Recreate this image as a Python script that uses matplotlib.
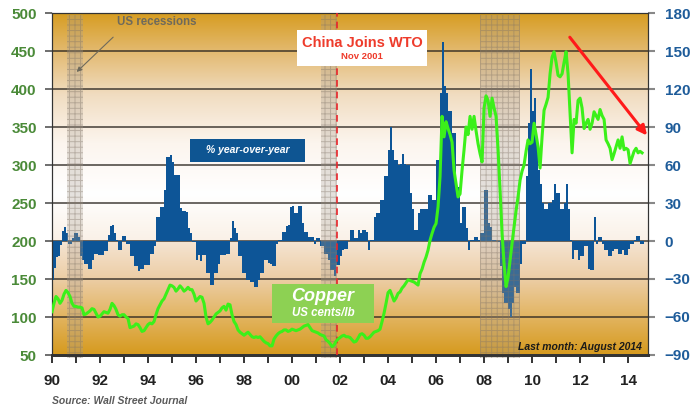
import numpy as np
import matplotlib
matplotlib.use("Agg")
import matplotlib.pyplot as plt
from matplotlib.colors import LinearSegmentedColormap
from matplotlib.patches import Rectangle

plt.rcParams['font.family'] = ['Liberation Sans', 'DejaVu Sans']
plt.rcParams['hatch.linewidth'] = 0.7

# ---------------- data ----------------
start_year = 1990
# Copper price, US cents/lb, monthly Jan 1990 - Aug 2014
copper = [
    107, 118, 127, 124, 118, 122, 130, 135, 132, 127, 118, 114,   # 1990
    114, 113, 113, 112, 103, 104, 106, 108, 111, 110, 105, 100,   # 1991
    101, 104, 107, 106, 105, 110, 118, 115, 110, 103, 101, 103,   # 1992
    103, 100, 98, 86, 87, 88, 91, 90, 86, 81, 82, 86,             # 1993
    90, 92, 91, 94, 103, 111, 116, 121, 124, 130, 136, 142,       # 1994
    141, 139, 134, 137, 141, 138, 134, 136, 139, 136, 136, 130,   # 1995
    121, 124, 127, 126, 118, 100, 91, 93, 96, 100, 104, 106,      # 1996
    108, 112, 114, 109, 117, 116, 103, 94, 90, 83, 80, 78,        # 1997
    76, 78, 80, 77, 74, 73, 74, 73, 74, 71, 68, 66,               # 1998
    65, 62, 62, 71, 75, 78, 80, 81, 83, 83, 81, 82,               # 1999
    84, 83, 82, 83, 84, 86, 88, 89, 90, 86, 82, 81,               # 2000
    80, 79, 77, 76, 75, 70, 68, 65, 61, 63, 68, 71,               # 2001
    73, 75, 76, 74, 74, 73, 70, 67, 68, 72, 77, 78,               # 2002
    76, 72, 72, 74, 77, 80, 81, 82, 84, 94, 105, 118,             # 2003
    132, 135, 128, 121, 125, 131, 133, 138, 141, 145, 149, 148,   # 2004
    147, 146, 144, 142, 157, 163, 172, 179, 188, 201, 210, 218,   # 2005
    223, 245, 285, 364, 337, 357, 348, 340, 330, 293, 275, 258,   # 2006
    262, 293, 320, 350, 340, 364, 347, 364, 345, 328, 315, 304,   # 2007
    375, 391, 385, 364, 388, 375, 364, 320, 267, 210, 170, 140,   # 2008
    152, 175, 197, 219, 240, 258, 280, 292, 300, 318, 333, 328,   # 2009
    330, 355, 340, 324, 296, 337, 372, 380, 389, 420, 442, 449,   # 2010
    435, 418, 416, 420, 435, 449, 420, 368, 316, 360, 355, 385,   # 2011
    388, 375, 348, 355, 360, 347, 355, 370, 365, 360, 373, 365,   # 2012
    360, 333, 328, 322, 307, 315, 324, 333, 322, 337, 320, 322,   # 2013
    320, 302, 310, 318, 322, 316, 318, 316,                       # 2014
]
# Copper, % year-over-year, monthly Jan 1990 - Aug 2014
yoy = [
    -31, -21, -13, -12, -3, 8, 11, 6, -2, -2, 2, 6,               # 1990
    6, 3, -12, -15, -18, -18, -22, -22, -15, -10, -10, -11,       # 1991
    -11, -11, -8, -8, 5, 12, 13, 6, 1, -7, -7, 4,                 # 1992
    4, -2, -2, -12, -12, -20, -20, -24, -22, -22, -19, -19,       # 1993
    -19, -10, -10, -4, 19, 19, 27, 27, 40, 66, 66, 68,            # 1994
    62, 52, 52, 52, 26, 24, 24, 23, 10, 6, -1, -1,                # 1995
    -15, -11, -16, -11, -11, -25, -25, -35, -35, -25, -25, -18,   # 1996
    -11, -11, -11, -10, -10, 2, 16, 10, 6, -12, -12, -25,         # 1997
    -25, -31, -31, -32, -32, -36, -36, -31, -25, -25, -15, -15,   # 1998
    -17, -18, -20, -20, -2, 1, 1, 7, 7, 12, 13, 27,               # 1999
    28, 22, 22, 28, 28, 14, 7, 7, 3, 3, 3, -2,                    # 2000
    2, 2, -4, -4, -10, -10, -15, -23, -23, -28, -19, -19,         # 2001
    -12, -7, -6, -6, 0, 9, 9, 2, 2, 9, 6, 9,                      # 2002
    9, 7, -7, 1, 1, 19, 22, 22, 32, 32, 51, 51,                   # 2003
    72, 90, 72, 64, 64, 60, 61, 69, 61, 60, 60, 38,               # 2004
    25, 9, 9, 22, 25, 25, 25, 25, 36, 36, 32, 32,                 # 2005
    64, 64, 117, 157, 122, 117, 103, 103, 85, 85, 43, 43,         # 2006
    14, 27, 27, 10, -7, 1, 1, 3, 3, 1, 6, 6,                      # 2007
    40, 40, 14, 11, 1, 1, 0, -1, -20, -41, -49, -49,              # 2008
    -54, -60, -49, -36, -41, -41, -18, -2, -2, 51, 93, 136,       # 2009
    103, 113, 80, 56, 45, 30, 25, 25, 30, 30, 32, 45,             # 2010
    38, 38, 25, 25, 30, 45, 25, 1, -14, -7, -7, -15,              # 2011
    -12, -12, -4, -4, -22, -23, -23, 19, -2, 3, 3, -2,            # 2012
    -7, -7, -12, -12, -8, -6, -6, -10, -10, -7, -11, -11,         # 2013
    -6, -2, -2, 1, 4, 4, -2, -2,                                  # 2014
]
recession_start = [1990.62, 2001.21, 2007.84]
recession_end = [1991.29, 2001.88, 2009.50]
wto_date = 2001.87
left_ticks = [50, 100, 150, 200, 250, 300, 350, 400, 450, 500]
right_ticks = [-90, -60, -30, 0, 30, 60, 90, 120, 150, 180]
year_labels = ['90', '92', '94', '96', '98', '00', '02', '04', '06', '08', '10', '12', '14']

months = start_year + np.arange(len(yoy)) / 12.0

# ---------------- figure ----------------
fig = plt.figure(figsize=(6.92, 4.11), dpi=100)
ax = fig.add_axes([52 / 692, 56 / 411, 596 / 692, 342 / 411])
ax2 = ax.twinx()
ax.set_zorder(ax2.get_zorder() + 1)
ax.patch.set_visible(False)

ax.set_xlim(1990.0, 2014.83)
ax.set_ylim(50, 500)
ax2.set_ylim(-90, 180)

# background gradient (bottom -> top)
stops = [
    (0.000, '#D69A1E'),
    (0.110, '#E2B460'),
    (0.220, '#ECCDA4'),
    (0.330, '#F5E4D2'),
    (0.334, '#FAF1E7'),
    (0.470, '#FFFFFF'),
    (0.620, '#FCF5EE'),
    (0.760, '#F1DDC2'),
    (0.880, '#E4BC76'),
    (1.000, '#D79D22'),
]
cmap = LinearSegmentedColormap.from_list('bg', stops)
grad = np.linspace(0, 1, 512).reshape(-1, 1)
ax2.imshow(grad, extent=[0, 1, 0, 1], transform=ax2.transAxes, aspect='auto',
           cmap=cmap, origin='lower', zorder=-2, interpolation='bilinear')

# grid
ax2.set_yticks(right_ticks)
for v in right_ticks[1:-1]:
    ax2.axhline(v, color='#2a2520', lw=1.3, alpha=0.75, zorder=0.5)

# bars
ax2.bar(months, yoy, width=1 / 12.0, align='edge', color='#0D5597', lw=0, zorder=2)

# recessions
for s, e in zip(recession_start, recession_end):
    ax2.axvspan(s, e, ymin=-0.008, ymax=0.994, facecolor=(0.66, 0.62, 0.57, 0.30),
                edgecolor=(0.50, 0.45, 0.40, 0.40), hatch='+++', lw=0, zorder=3,
                clip_on=False)

# WTO line
ax.axvline(wto_date, color='#E8242A', ls=(0, (4, 3)), lw=1.2, zorder=4)

# copper line
ax.plot(months[:len(copper)], copper, color='#3BF01A', lw=2.2, zorder=5,
        solid_joinstyle='round')

# ---------------- axes styling ----------------
for side in ['left', 'right', 'top', 'bottom']:
    for a in (ax, ax2):
        a.spines[side].set_color('#333333')
ax.spines['bottom'].set_linewidth(2)
ax2.spines['bottom'].set_linewidth(2)

ax.set_yticks(left_ticks)
ax.tick_params(axis='y', colors='#555555', length=5, width=1.2, pad=6,
               labelcolor='#4A8A38', labelsize=11)
for t in ax.get_yticklabels():
    t.set_fontweight('bold')
ax2.tick_params(axis='y', colors='#888888', length=5, width=1.5, pad=7,
                labelcolor='#1E5C9A', labelsize=11)
for t in ax2.get_yticklabels():
    t.set_fontweight('bold')

major_years = list(range(1990, 2015, 2))
minor_years = list(range(1991, 2015, 2))
ax.set_xticks(major_years)
ax.set_xticklabels(year_labels)
ax.set_xticks(minor_years, minor=True)
ax.tick_params(axis='x', which='both', colors='#333333', length=6, width=1.4,
               labelcolor='#222222', labelsize=11, pad=8)
for t in ax.get_xticklabels():
    t.set_fontweight('bold')
ax2.tick_params(axis='x', which='both', length=0)

# ---------------- annotations ----------------
ax.text(0.176, 0.973, 'US recessions', transform=ax.transAxes, ha='center', va='center',
        fontsize=8.3, fontweight='bold', color='#6E6A5C', zorder=7)
ax.annotate('', xy=(0.038, 0.822), xytext=(0.106, 0.935), xycoords='axes fraction',
            arrowprops=dict(arrowstyle='-|>', color='#6E6A5C', lw=0.8, mutation_scale=7),
            zorder=7)

ax.add_patch(Rectangle((0.411, 0.845), 0.218, 0.105, transform=ax.transAxes,
                       facecolor='white', edgecolor='none', zorder=6))
ax.text(0.520, 0.913, 'China Joins WTO', transform=ax.transAxes, ha='center', va='center',
        fontsize=10.5, fontweight='bold', color='#EE3B2B', zorder=7)
ax.text(0.520, 0.873, 'Nov 2001', transform=ax.transAxes, ha='center', va='center',
        fontsize=6.8, fontweight='bold', color='#EE3B2B', zorder=7)

ax.add_patch(Rectangle((0.2315, 0.564), 0.193, 0.068, transform=ax.transAxes,
                       facecolor='#0E5592', edgecolor='none', zorder=6))
ax.text(0.329, 0.598, '% year-over-year', transform=ax.transAxes, ha='center',
        va='center', fontsize=7.5, fontweight='bold', style='italic', color='white',
        zorder=7)

ax.add_patch(Rectangle((0.369, 0.0936), 0.171, 0.114, transform=ax.transAxes,
                       facecolor='#8DD153', edgecolor='none', zorder=6))
ax.text(0.4547, 0.170, 'Copper', transform=ax.transAxes, ha='center', va='center',
        fontsize=13, fontweight='bold', style='italic', color='white', zorder=7)
ax.text(0.4547, 0.122, 'US cents/lb', transform=ax.transAxes, ha='center', va='center',
        fontsize=8.3, fontweight='bold', style='italic', color='white', zorder=7)

ax.text(0.990, 0.022, 'Last month: August 2014', transform=ax.transAxes, ha='right',
        va='center', fontsize=7.5, fontweight='bold', style='italic', color='#1a1a1a',
        zorder=7)

ax.annotate('', xy=(2014.86, 336), xytext=(2011.5, 471),
            arrowprops=dict(arrowstyle='-|>', color='#FF1A1A', lw=2.2, mutation_scale=14),
            annotation_clip=False, zorder=8)

fig.text(52 / 692, 10 / 411, 'Source: Wall Street Journal', ha='left', va='center',
         fontsize=7.5, fontweight='bold', style='italic', color='#5A5A5A')

fig.savefig('out.png', dpi=100)
